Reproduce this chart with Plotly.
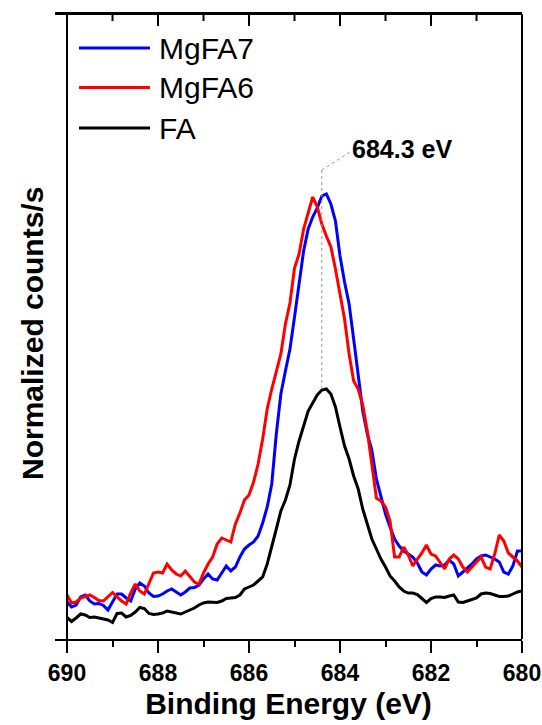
import numpy as np
import plotly.graph_objects as go

# Binding energy grid (eV), 0.1 eV steps from 690 to 680
binding_energy = np.round(np.linspace(690, 680, 101), 1)

# Normalized counts (arbitrary units)
mgfa7 = [37, 32, 34, 42, 44, 38, 35, 35.5, 33.5, 29,
         37, 45, 45, 41, 38, 50, 56, 53, 46, 42.5,
         43, 45, 48, 50, 47, 44, 47, 51, 51.5, 54,
         60, 65, 60, 59, 66, 73, 68, 72, 82, 90,
         94, 97, 103, 116, 132, 155, 205, 245, 268, 290,
         322, 357, 388, 410, 422, 431, 443, 445, 435, 418,
         383, 357, 335, 300, 265, 228, 205, 189, 160, 142,
         125, 112, 100, 93, 88, 85, 82, 76, 67, 64,
         70, 74, 73, 74, 79, 75, 63, 67, 71, 75,
         80, 83, 84, 82, 80, 77, 67, 65, 73, 88,
         88]

mgfa6 = [44, 36, 37, 41, 42.5, 44, 41.5, 38.5, 38, 42,
         46.5, 42, 38, 35, 46, 55, 48, 45, 55, 66,
         67, 66, 75, 69, 65, 63, 68, 62, 57, 55,
         66, 75, 82, 95, 101, 99, 97, 115, 126, 139,
         144, 157, 175, 200, 230, 250, 268, 285, 315, 336,
         371, 385, 410, 427, 442, 432, 415, 403, 392, 370,
         346, 320, 285, 258, 250, 234, 208, 172, 141, 138,
         132, 118, 82, 82, 92, 84, 73, 80, 86, 94,
         85, 83, 76, 70, 80, 84, 80, 72, 67, 72,
         78, 82, 72, 70, 85, 104, 98, 86, 82, 78,
         72]

fa = [21.5, 17.5, 21, 25, 24, 21.5, 22, 21, 20.5, 19,
      16.5, 25.5, 26, 22, 23.5, 27, 31.5, 30.5, 25.5, 24.5,
      25, 26, 28, 27, 25.5, 25, 27, 29, 31, 34,
      36, 37, 37, 36.5, 38, 40.5, 41, 41.5, 44, 50,
      52, 54, 58, 62, 75, 94, 110, 128, 139, 154,
      180, 198, 214, 228, 236, 244, 249, 250, 245, 232,
      212, 193, 180, 163, 150, 130, 115, 100, 90, 80,
      72, 63, 58, 52, 48, 46, 46, 44.5, 40.5, 36.5,
      40.5, 42, 42, 41.5, 43, 44, 37, 36.5, 38, 39.5,
      41, 45, 46, 45.5, 44, 42.5, 42.5, 43, 45, 47,
      48]

series_names = ["MgFA7", "MgFA6", "FA"]
series_colors = ["#0000FF", "#FF0000", "#000000"]
major_ticks = [690, 688, 686, 684, 682, 680]
minor_ticks = [689, 687, 685, 683, 681]
peak_label = "684.3 eV"
peak_line_ev = 684.4
x_range = [690.264, 680]
y_range = [0, 625]

FONT = "Arial, Liberation Sans, sans-serif"

# plot area in pixels (for placing paper-referenced decorations)
L, R, T, B = 55, 522, 14, 639
def px_x(p):
    return (p - L) / (R - L)
def px_y(p):
    return (B - p) / (B - T)

fig = go.Figure()
for name, vals, col in zip(series_names, [mgfa7, mgfa6, fa], series_colors):
    fig.add_trace(go.Scatter(x=binding_energy, y=vals, mode="lines", name=name,
                             line=dict(color=col, width=3), showlegend=False))

fig.update_layout(
    width=542, height=725,
    margin=dict(l=L, r=542 - R, t=T, b=725 - B),
    plot_bgcolor="white", paper_bgcolor="white",
    font=dict(family=FONT, color="black"),
    xaxis=dict(range=x_range, tickmode="array", tickvals=major_ticks,
               ticktext=[str(v) for v in major_ticks],
               showline=True, linewidth=2, linecolor="black", mirror=True,
               automargin=False, showgrid=False, zeroline=False,
               ticks="outside", ticklen=12, tickwidth=2, tickcolor="black",
               tickfont=dict(family=FONT, size=23, weight="bold"),
               minor=dict(tickmode="array", tickvals=minor_ticks, ticks="outside",
                          ticklen=6, tickwidth=2, tickcolor="black", showgrid=False),
               title=dict(text="Binding Energy (eV)",
                          font=dict(family=FONT, size=30, weight="bold"),
                          standoff=8)),
    yaxis=dict(range=y_range, automargin=False, showline=False,
               showticklabels=False, ticks="", showgrid=False, zeroline=False),
    showlegend=False,
)

# left axis line at 690 eV, right frame line, and top frame line
fig.add_shape(type="line", xref="x", yref="paper", x0=major_ticks[0], x1=major_ticks[0],
              y0=0, y1=1, line=dict(color="black", width=2))
fig.add_shape(type="line", xref="paper", yref="paper", x0=1, x1=1, y0=0, y1=1,
              line=dict(color="black", width=2))
fig.add_shape(type="line", xref="paper", yref="paper", x0=0, x1=1, y0=1, y1=1,
              line=dict(color="black", width=2))
# inward ticks on the top frame, at the same positions as the bottom axis ticks
for tv in major_ticks:
    fig.add_shape(type="line", xref="x", yref="paper", x0=tv, x1=tv,
                  y0=1, y1=1 - 12 / (B - T), line=dict(color="black", width=2))
for tv in minor_ticks:
    fig.add_shape(type="line", xref="x", yref="paper", x0=tv, x1=tv,
                  y0=1, y1=1 - 7 / (B - T), line=dict(color="black", width=2))

# legend (long line samples as in the reference)
legend_rows_px = [48, 87.5, 128]
for name, col, ry in zip(series_names, series_colors, legend_rows_px):
    fig.add_shape(type="line", xref="paper", yref="paper",
                  x0=px_x(79), x1=px_x(150), y0=px_y(ry), y1=px_y(ry),
                  line=dict(color=col, width=3))
    fig.add_annotation(x=px_x(157), y=px_y(ry), xref="paper", yref="paper",
                       text=name, showarrow=False, xanchor="left", yanchor="middle",
                       font=dict(family=FONT, size=30, color="black"))

# dotted leader lines marking the peak position
fig.add_shape(type="line", xref="x", yref="y", x0=peak_line_ev, x1=peak_line_ev,
              y0=250, y1=469, line=dict(color="#999999", width=1, dash="dot"))
fig.add_shape(type="line", xref="x", yref="y", x0=peak_line_ev, x1=683.78,
              y0=469, y1=487, line=dict(color="#999999", width=1, dash="dot"))

fig.add_annotation(x=682.64, y=490, xref="x", yref="y", text=peak_label,
                   showarrow=False, xanchor="center", yanchor="middle",
                   font=dict(family=FONT, size=25, weight="bold", color="black"))

fig.add_annotation(x=px_x(32), y=px_y(334), xref="paper", yref="paper",
                   text="Normalized counts/s", textangle=-90, showarrow=False,
                   xanchor="center", yanchor="middle",
                   font=dict(family=FONT, size=30, weight="bold", color="black"))

fig.write_html("out.html")
